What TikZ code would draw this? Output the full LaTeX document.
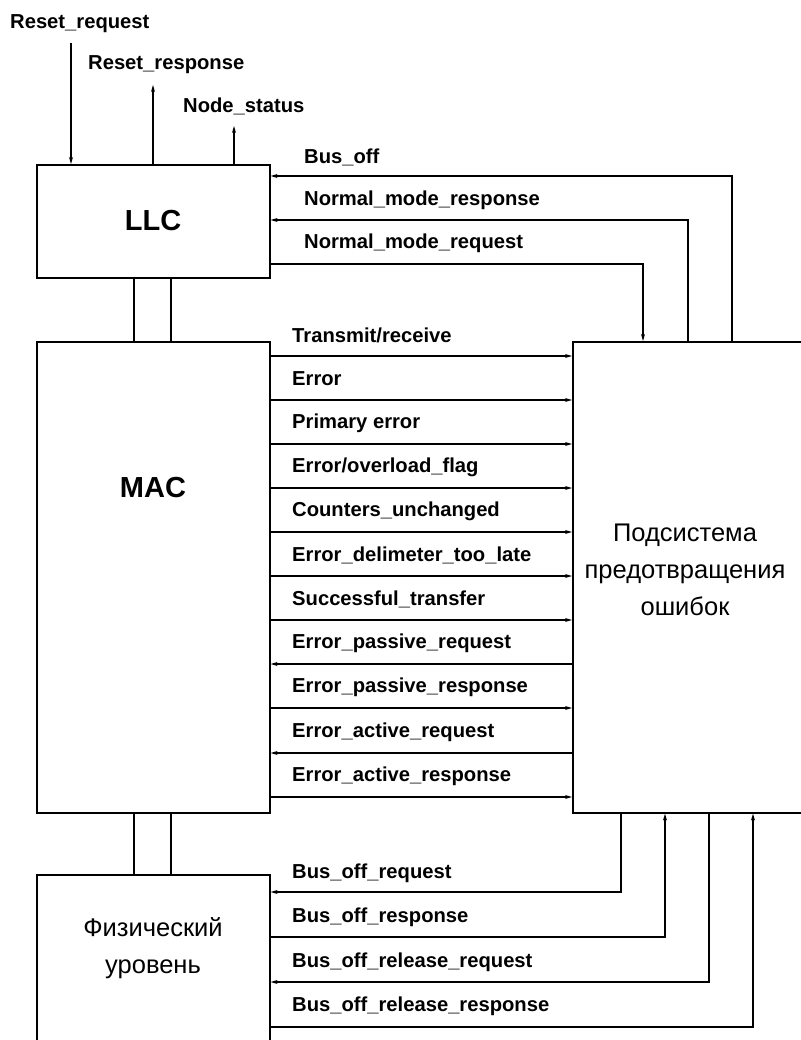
\documentclass[tikz,border=0pt]{standalone}
\usepackage{fontspec}
\setmainfont{Liberation Sans}
\usetikzlibrary{arrows.meta}
\tikzset{
  block/.style = {draw, line width=1.6pt, anchor=north west, inner sep=0pt},
  sig/.style = {line width=1.1pt, -{Stealth[length=7pt,width=4pt]}},
  wire/.style = {line width=1.6pt},
  lbl/.style = {anchor=west, inner sep=0pt, font=\bfseries\fontsize{20.2}{24}\selectfont},
  big/.style = {font=\bfseries\fontsize{29}{34}\selectfont},
  rus/.style = {align=center, font=\fontsize{25.5}{37}\selectfont}
}
\begin{document}
\begin{tikzpicture}[x = 1pt, y = -1pt]
  \useasboundingbox (0,0) rectangle (800,1040);
  % blocks
  \node [block, minimum width=233, minimum height=113] (llc) at (36,164) {};
  \node [block, minimum width=233, minimum height=471] (mac) at (36,341) {};
  \node [block, minimum width=233, minimum height=190] (phy) at (36,874) {};
  \node [block, minimum width=250, minimum height=471] (ems) at (572,341) {};
  \node [big] (llctext) at (153,221) {LLC};
  \node [big] (mactext) at (153,488) {MAC};
  \node [rus] (phytext) at (153,948) {Физический\\уровень};
  \node [rus] (emstext) at (685,570) {Подсистема\\предотвращения\\ошибок};
  % buses between the layers
  \draw [wire] (llc.south -| 134,0) -- (mac.north -| 134,0);
  \draw [wire] (llc.south -| 171,0) -- (mac.north -| 171,0);
  \draw [wire] (mac.south -| 134,0) -- (phy.north -| 134,0);
  \draw [wire] (mac.south -| 171,0) -- (phy.north -| 171,0);
  % LLC, top side
  \coordinate (rreq) at (71,43);
  \coordinate (rresp) at (153,85);
  \coordinate (nstat) at (234,126);
  \draw [sig] (rreq) -- (llc.north -| rreq);
  \draw [sig] (llc.north -| rresp) -- (rresp);
  \draw [sig] (llc.north -| nstat) -- (nstat);
  \node [lbl] (rreqlbl) at (10,24) {Reset\_request};
  \node [lbl] (rresplbl) at (88,65) {Reset\_response};
  \node [lbl] (nstatlbl) at (183,106) {Node\_status};
  % LLC <-> subsystem
  \draw [sig] (ems.north -| 732,0) |- (llc.east |- 0,176);
  \draw [sig] (ems.north -| 688,0) |- (llc.east |- 0,220);
  \draw [sig] (llc.east |- 0,264) -| (ems.north -| 643,0);
  \node [lbl] (busofflbl) at (304,157) {Bus\_off};
  \node [lbl] (nmresplbl) at (304,200) {Normal\_mode\_response};
  \node [lbl] (nmreqlbl) at (304,243) {Normal\_mode\_request};
  % MAC <-> subsystem
  \draw [sig] (mac.east |- 0,356) -- (ems.west |- 0,356);
  \node [lbl] (trlbl) at (292,335) {Transmit/receive};
  \draw [sig] (mac.east |- 0,400) -- (ems.west |- 0,400);
  \node [lbl] (errlbl) at (292,379) {Error};
  \draw [sig] (mac.east |- 0,444) -- (ems.west |- 0,444);
  \node [lbl] (primlbl) at (292,423) {Primary error};
  \draw [sig] (mac.east |- 0,488) -- (ems.west |- 0,488);
  \node [lbl] (flaglbl) at (292,467) {Error/overload\_flag};
  \draw [sig] (mac.east |- 0,532) -- (ems.west |- 0,532);
  \node [lbl] (cntlbl) at (292,511) {Counters\_unchanged};
  \draw [sig] (mac.east |- 0,576) -- (ems.west |- 0,576);
  \node [lbl] (dellbl) at (292,555) {Error\_delimeter\_too\_late};
  \draw [sig] (mac.east |- 0,620) -- (ems.west |- 0,620);
  \node [lbl] (succlbl) at (292,599) {Successful\_transfer};
  \draw [sig] (ems.west |- 0,664) -- (mac.east |- 0,664);
  \node [lbl] (epreqlbl) at (292,643) {Error\_passive\_request};
  \draw [sig] (mac.east |- 0,708) -- (ems.west |- 0,708);
  \node [lbl] (eprsplbl) at (292,687) {Error\_passive\_response};
  \draw [sig] (ems.west |- 0,753) -- (mac.east |- 0,753);
  \node [lbl] (eareqlbl) at (292,732) {Error\_active\_request};
  \draw [sig] (mac.east |- 0,797) -- (ems.west |- 0,797);
  \node [lbl] (earsplbl) at (292,776) {Error\_active\_response};
  % physical layer <-> subsystem
  \draw [sig] (ems.south -| 621,0) |- (phy.east |- 0,892);
  \draw [sig] (phy.east |- 0,937) -| (ems.south -| 665,0);
  \draw [sig] (ems.south -| 709,0) |- (phy.east |- 0,982);
  \draw [sig] (phy.east |- 0,1027) -| (ems.south -| 753,0);
  \node [lbl] (boreqlbl) at (292,873) {Bus\_off\_request};
  \node [lbl] (boresplbl) at (292,917) {Bus\_off\_response};
  \node [lbl] (borreqlbl) at (292,962) {Bus\_off\_release\_request};
  \node [lbl] (borresplbl) at (292,1006) {Bus\_off\_release\_response};
\end{tikzpicture}
\end{document}
